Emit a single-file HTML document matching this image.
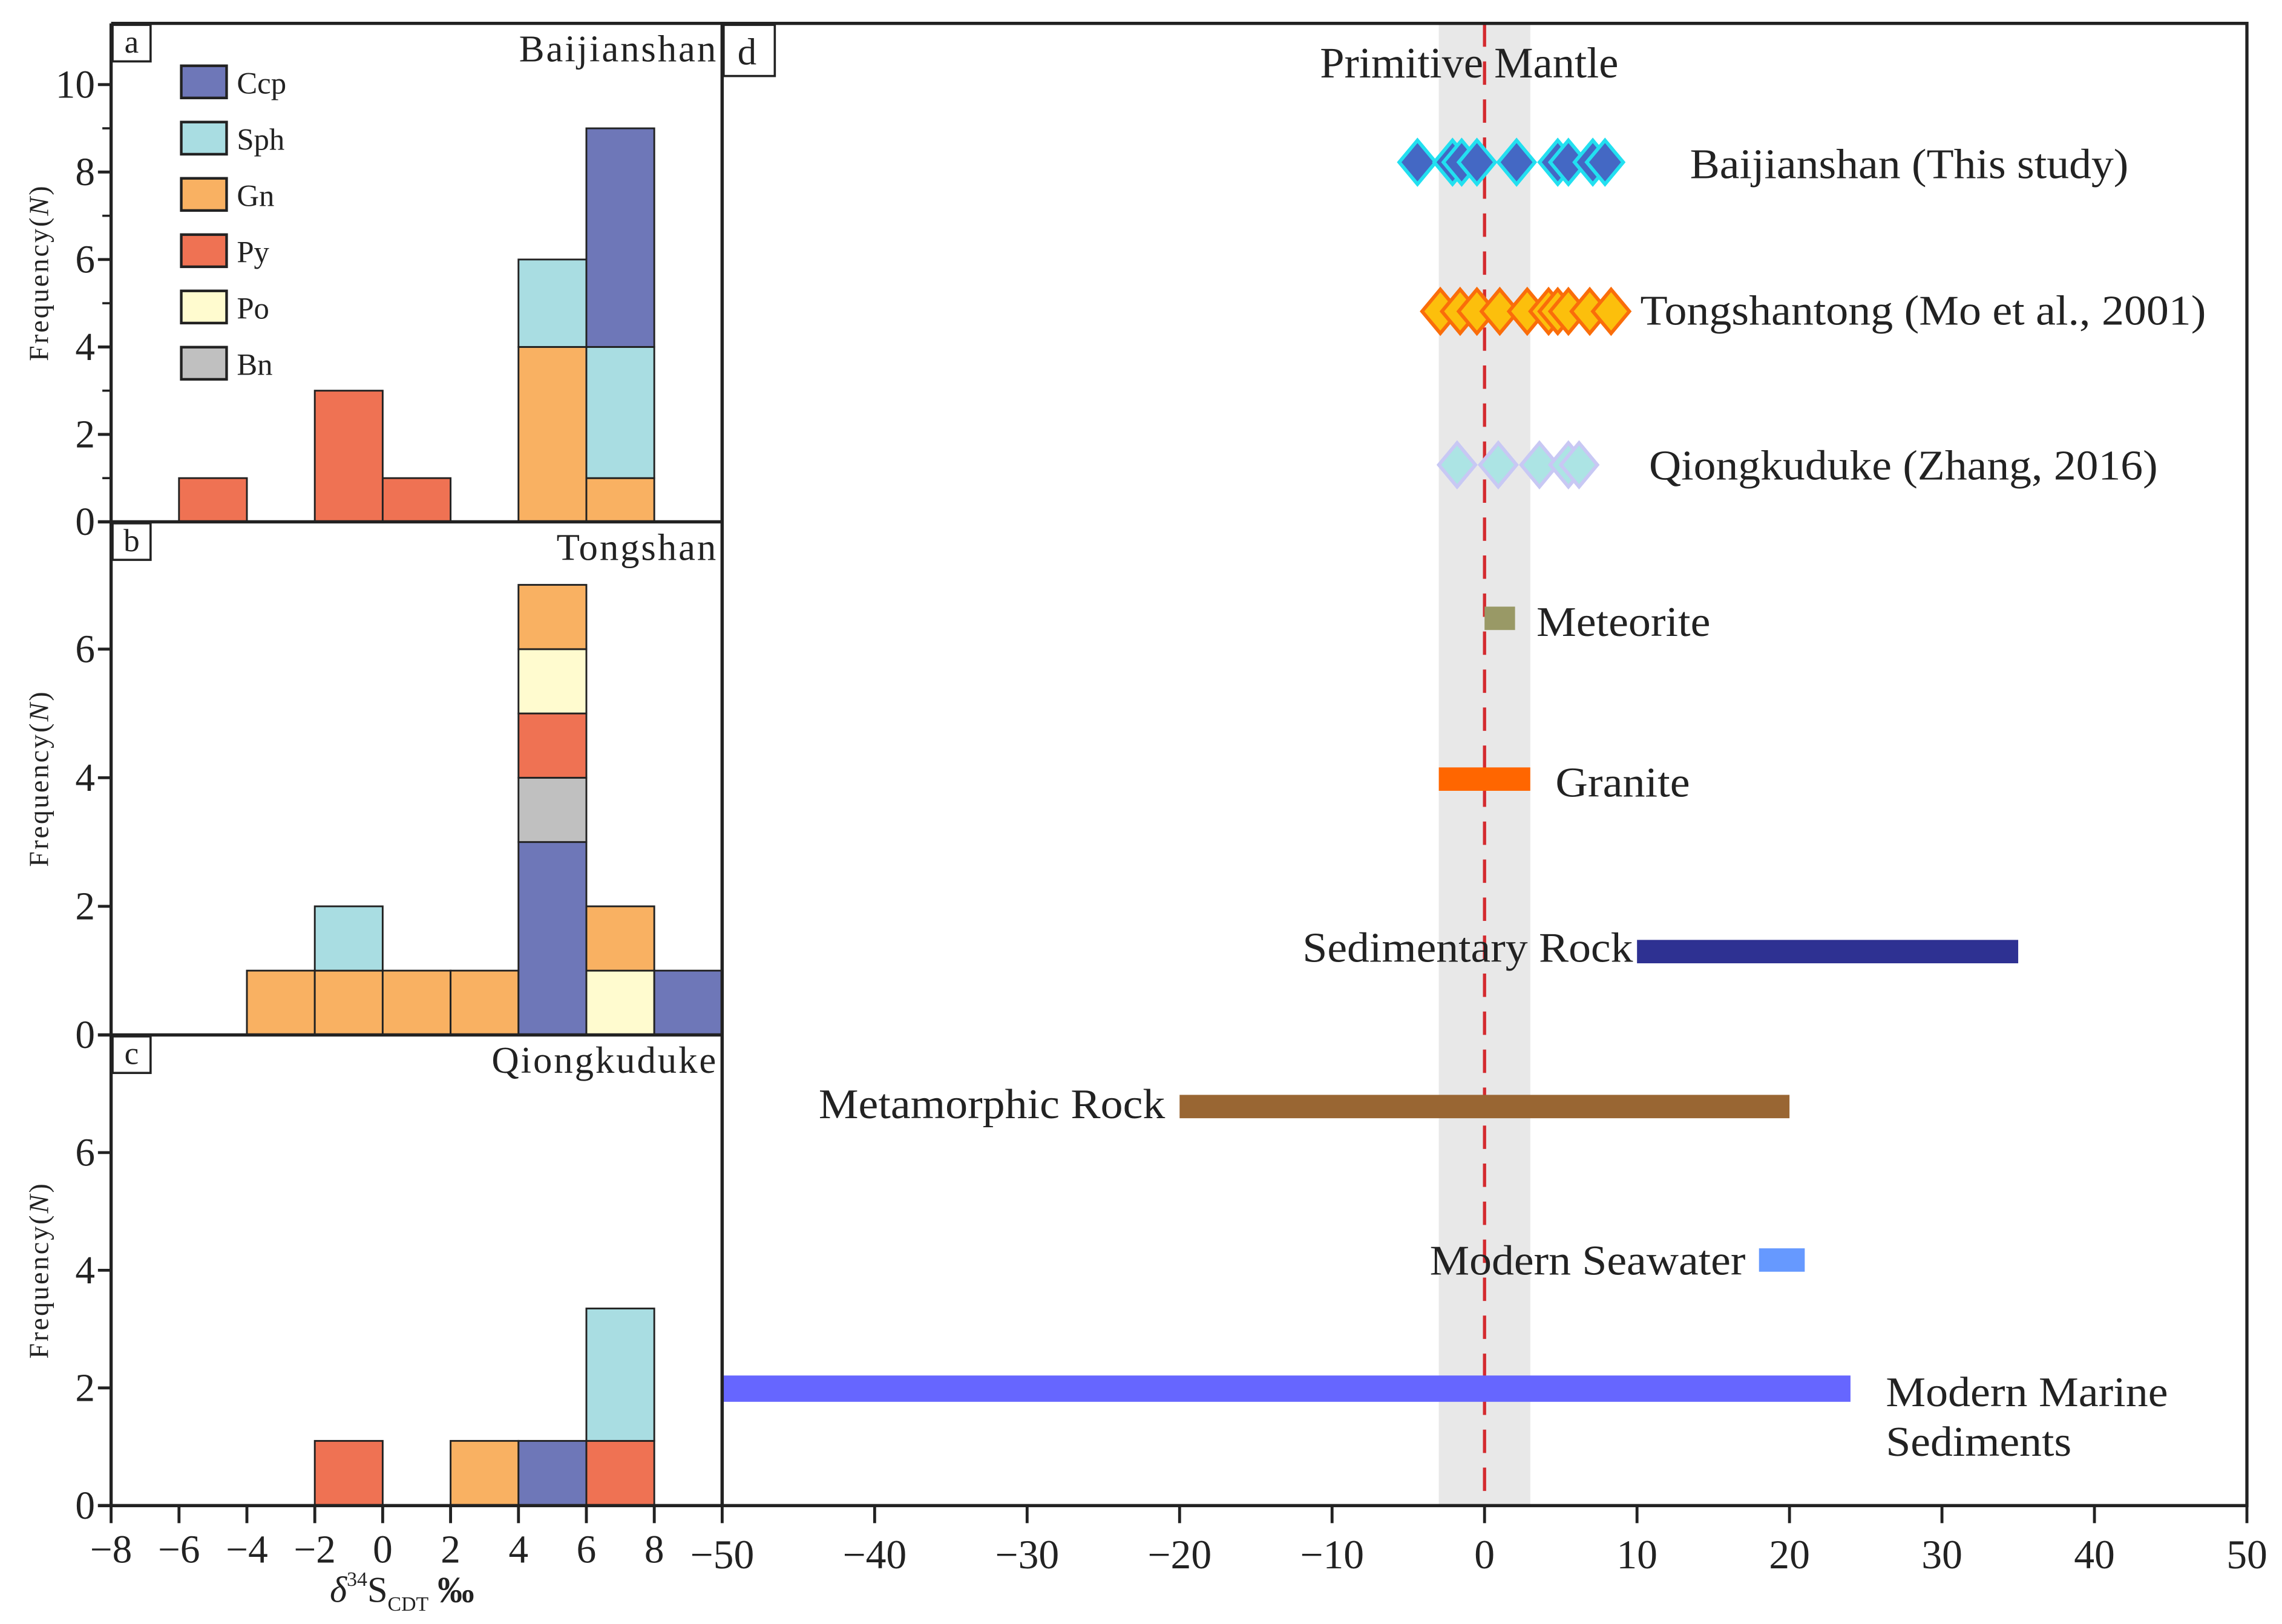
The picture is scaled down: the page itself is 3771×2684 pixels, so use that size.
<!DOCTYPE html>
<html><head><meta charset="utf-8"><style>
html,body{margin:0;padding:0;background:#fff}
svg{display:block}
text{font-family:"Liberation Serif",serif;fill:#222}
</style></head><body>
<svg id="chart" width="3771" height="2684" viewBox="0 0 1561 1111" preserveAspectRatio="none" xmlns="http://www.w3.org/2000/svg">
<rect x="0" y="0" width="1561" height="1111" fill="#fff"/>
<g id="g"></g>
</svg>
<script>
// ---- data ----
const minerals = ["Ccp","Sph","Gn","Py","Po","Bn"];
const mineralColors = ["#6e77b8","#a9dde2","#f9b162","#ef7253","#fffbcf","#c0c0c0"];
// histogram stacks: [binLeft, mineral, count] in stacking order
const histA = [[-6,"Py",1],[-2,"Py",3],[0,"Py",1],[4,"Gn",4],[4,"Sph",2],[6,"Gn",1],[6,"Sph",3],[6,"Ccp",5]];
const histB = [[-4,"Gn",1],[-2,"Gn",1],[-2,"Sph",1],[0,"Gn",1],[2,"Gn",1],[4,"Ccp",3],[4,"Bn",1],[4,"Py",1],[4,"Po",1],[4,"Gn",1],[6,"Po",1],[6,"Gn",1],[8,"Ccp",1]];
const histC = [[-2,"Py",1.1],[2,"Gn",1.1],[4,"Ccp",1.1],[6,"Py",1.1],[6,"Sph",2.25]];
const histXTicks = [-8,-6,-4,-2,0,2,4,6,8];
const dXTicks = [-50,-40,-30,-20,-10,0,10,20,30,40,50];
const baijianshanVals = [-4.4,-2.1,-1.5,-0.5,2.1,4.8,5.5,7.1,7.9];
const tongshantongVals = [-2.9,-1.6,-0.5,1.0,2.8,4.2,4.8,5.5,6.9,8.3];
const qiongkudukeVals = [-1.8,0.9,3.6,5.5,6.2];
const rangeNames = ["Meteorite","Granite","Sedimentary Rock","Metamorphic Rock","Modern Seawater","Modern Marine Sediments"];
const rangeMin = [0,-3,10,-20,18,-50];
const rangeMax = [2,3,35,20,21,24];

const NS="http://www.w3.org/2000/svg";
const g=document.getElementById('g');
function el(tag,attrs,parent){const e=document.createElementNS(NS,tag);for(const k in attrs)e.setAttribute(k,attrs[k]);(parent||g).appendChild(e);return e;}
function txt(s,attrs){const t=el('text',attrs);t.textContent=s;return t;}

// ---- histogram axes ----
const hx0=76,hx1=494;
function hX(v){return hx0+(v+8)*(hx1-hx0)/18;}
const panels=[
 {id:"a",top:16,bottom:357,max:11.4,ticks:[0,2,4,6,8,10],minor:[1,3,5,7,9],data:histA,title:"Baijianshan"},
 {id:"b",top:357,bottom:708,max:7.98,ticks:[0,2,4,6],minor:[],data:histB,title:"Tongshan"},
 {id:"c",top:708,bottom:1030,max:8,ticks:[0,2,4,6],minor:[],data:histC,title:"Qiongkuduke"}
];
panels.forEach(p=>{
  const yS=v=>p.bottom-v*(p.bottom-p.top)/p.max;
  const grp=el('g',{});
  
  
  const stack={};
  p.data.forEach(d=>{
    const base=stack[d[0]]||0;
    const r=el('rect',{x:hX(d[0]),y:yS(base+d[2]),width:hX(d[0]+2)-hX(d[0]),height:yS(base)-yS(base+d[2]),fill:mineralColors[minerals.indexOf(d[1])],stroke:"#222","stroke-width":1.2},grp);
    
    
    stack[d[0]]=base+d[2];
  });
  p.ticks.forEach(t=>{
    el('line',{x1:hX(-8)-9,x2:hX(-8),y1:yS(t),y2:yS(t),stroke:"#222","stroke-width":2},grp);
    const tl=txt(String(t),{x:hX(-8)-11,y:yS(t)+9,"font-size":27,"text-anchor":"end"});
    
    
  });
  p.minor.forEach(t=>el('line',{x1:hX(-8)-6,x2:hX(-8),y1:yS(t),y2:yS(t),stroke:"#222","stroke-width":1.5},grp));
  el('line',{x1:hx0,x2:hx0,y1:p.top,y2:p.bottom,stroke:"#222","stroke-width":2.2},grp);
  el('line',{x1:hx0-9,x2:hx1,y1:p.bottom,y2:p.bottom,stroke:"#222","stroke-width":2.2},grp);
  el('rect',{x:hx0+1,y:p.top+1,width:26,height:25,fill:"#fff",stroke:"#222","stroke-width":1.5},grp);
  const lb=txt(p.id,{x:hx0+14,y:p.top+20,"font-size":22,"text-anchor":"middle"});
  
  
  const tt=txt(p.title,{x:491,y:p.top+26,"font-size":26,"text-anchor":"end","letter-spacing":1.2});
  
  
  const yl=txt("",{x:0,y:0,"font-size":19,"text-anchor":"middle",transform:`translate(33,${(p.top+p.bottom)/2}) rotate(-90)`,"letter-spacing":1.3});
  yl.innerHTML='Frequency(<tspan font-style="italic">N</tspan>)';
  
  
});
el('line',{x1:hx1,x2:hx1,y1:16,y2:1030,stroke:"#222","stroke-width":2.2});
el('line',{x1:hx0,x2:hx1,y1:16,y2:16,stroke:"#222","stroke-width":2.2});
histXTicks.forEach(t=>{
  el('line',{x1:hX(t),x2:hX(t),y1:1030,y2:1042,stroke:"#222","stroke-width":2});
  const l=txt(t<0?"\u2212"+(-t):String(t),{x:hX(t),y:1069,"font-size":27,"text-anchor":"middle"});
  
  
});
const xt=txt("",{x:275,y:1096,"font-size":25,"text-anchor":"middle"});
xt.innerHTML='<tspan font-style="italic">δ</tspan><tspan font-size="14" dy="-11">34</tspan><tspan dy="11">S</tspan><tspan font-size="14" dy="6">CDT</tspan><tspan dy="-6" font-weight="bold"> ‰</tspan>';



// legend
minerals.forEach((m,i)=>{
  const y=45+i*38.5;
  const r=el('rect',{x:124,y:y,width:31,height:22,fill:mineralColors[i],stroke:"#222","stroke-width":1.8});
  
  
  const t=txt(m,{x:162,y:y+19,"font-size":21});
  
  
});

// ---- panel d ----
const dx0=494,dx1=1537,dTop=16,dBot=1030;
function dX(v){return dx0+(v+50)*(dx1-dx0)/100;}
const shade=el('rect',{x:dX(-3),y:dTop,width:dX(3)-dX(-3),height:dBot-dTop,fill:"#e8e8e8"});


const zl=el('line',{x1:dX(0),x2:dX(0),y1:dTop,y2:dBot,stroke:"#d42a2f","stroke-width":2.2,"stroke-dasharray":"16,10"});


const pm=txt("Primitive Mantle",{x:1005,y:53,"font-size":30,"text-anchor":"middle"});



function diamonds(vals,y,fill,stroke,name){
  vals.forEach(v=>{
    const cx=dX(v);
    const p=el('polygon',{points:`${cx-12.5},${y} ${cx},${y-15} ${cx+12.5},${y} ${cx},${y+15}`,fill:fill,stroke:stroke,"stroke-width":2.4});
    
    
  });
}
diamonds(baijianshanVals,111,"#4468c4","#22e0f0","baijianshan");
diamonds(tongshantongVals,213,"#fcbf0c","#fa6d0a","tongshantong");
diamonds(qiongkudukeVals,318,"#ace4e4","#c8c8f4","qiongkuduke");
[["Baijianshan (This study)",1156,122,300],["Tongshantong (Mo et al., 2001)",1122,222,387],["Qiongkuduke (Zhang, 2016)",1128,328,348]].forEach(a=>{
  const t=txt(a[0],{x:a[1],y:a[2],"font-size":29,textLength:a[3],lengthAdjust:"spacingAndGlyphs"});
  
  
});

const rangeY=[423,533,651,757,862,950];
const rangeH=[16,16,16,16,16,18];
const rangeCol=["#999966","#ff6600","#2e3192","#996633","#6699ff","#6666ff"];
rangeNames.forEach((n,i)=>{
  const r=el('rect',{x:dX(rangeMin[i]),y:rangeY[i]-rangeH[i]/2,width:dX(rangeMax[i])-dX(rangeMin[i]),height:rangeH[i],fill:rangeCol[i]});
  
  
});
const rl=[["Meteorite",1051,435,"start",119],["Granite",1064,545,"start",92],["Sedimentary Rock",1117,658,"end",226],["Metamorphic Rock",797,765,"end",237],["Modern Seawater",1194,872,"end",216],["Modern Marine",1290,962,"start",193],["Sediments",1290,996,"start",127]];
rl.forEach(a=>{
  const x=a[3]==="end"?a[1]-a[4]:a[1];
  const t=txt(a[0],{x:x,y:a[2],"font-size":29,textLength:a[4],lengthAdjust:"spacingAndGlyphs"});
  
  
});

el('rect',{x:dx0,y:dTop,width:dx1-dx0,height:dBot-dTop,fill:"none",stroke:"#222","stroke-width":2.2});
el('rect',{x:dx0+1,y:dTop+1,width:35,height:35,fill:"#fff",stroke:"#222","stroke-width":1.5});
const dl=txt("d",{x:dx0+17,y:dTop+28,"font-size":26,"text-anchor":"middle"});


dXTicks.forEach(t=>{
  el('line',{x1:dX(t),x2:dX(t),y1:dBot,y2:dBot+12,stroke:"#222","stroke-width":2});
  const l=txt(t<0?"\u2212"+(-t):String(t),{x:dX(t),y:1073,"font-size":28,"text-anchor":"middle"});
  
  
});
</script>
</body></html>
